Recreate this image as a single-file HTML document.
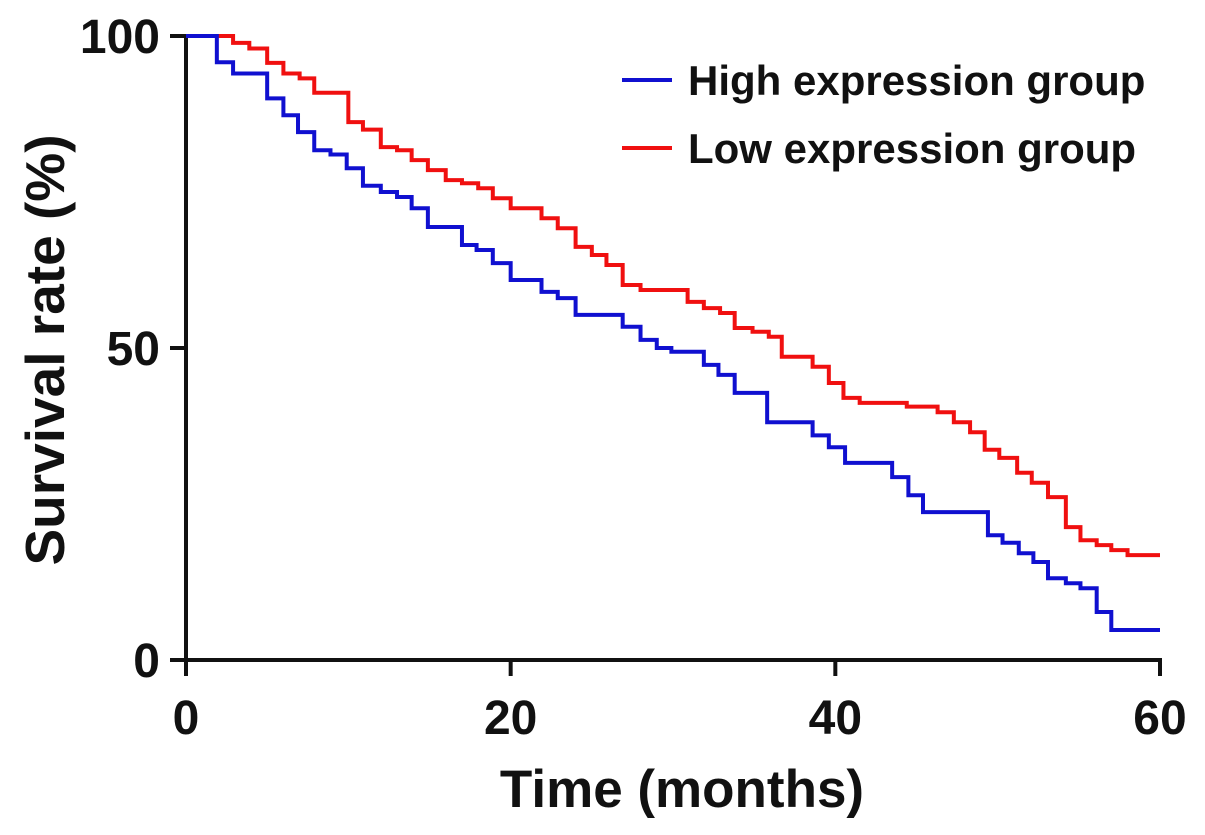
<!DOCTYPE html>
<html><head><meta charset="utf-8"><style>
html,body{margin:0;padding:0;background:#fff;}
svg{display:block;font-family:"Liberation Sans",Arial,sans-serif;font-weight:bold;}
</style></head><body>
<svg id="chart" width="1205" height="835" viewBox="0 0 1205 835">
<g id="axes"></g>
<g id="series"></g>
<g>
<line x1="622" y1="80" x2="672" y2="80" stroke="#1010d0" stroke-width="4"/>
<text x="688" y="95" font-size="42" fill="#111">High expression group</text>
<line x1="622" y1="148" x2="672" y2="148" stroke="#f01010" stroke-width="4"/>
<text x="688" y="163" font-size="42" fill="#111">Low expression group</text>
</g>
<text x="682" y="807" font-size="53" text-anchor="middle" fill="#111">Time (months)</text>
<text transform="translate(64,350) rotate(-90)" font-size="55" text-anchor="middle" fill="#111">Survival rate (%)</text>
</svg>
<script>
const xTicks = [0, 20, 40, 60];
const yTicks = [0, 50, 100];
const highTimes = [0,1.9,2.9,5,6,6.9,7.9,8.9,9.9,10.9,12,13,13.9,14.9,17,17.9,18.9,20,21.9,22.9,24,26.9,28,29,29.9,31.9,32.8,33.8,35.8,38.6,39.6,40.6,43.5,44.5,45.4,49.4,50.3,51.3,52.2,53.1,54.2,55.1,56.1,57];
const highSurv = [100,95.8,94,90,87.3,84.6,81.7,81,78.8,76,75,74.2,72.4,69.4,66.5,65.7,63.6,60.9,59,58,55.3,53.4,51.3,50,49.4,47.3,45.7,42.8,38.1,36,34.1,31.6,29.3,26.4,23.7,20,18.8,17.1,15.7,13.1,12.3,11.5,7.7,4.8];
const lowTimes = [0,2.9,3.9,5,6,7,7.9,10,10.9,12,13,13.9,14.9,16,17,18,18.9,20,21.9,22.9,24,25,25.9,26.9,28,30.9,31.9,32.9,33.8,34.9,35.9,36.7,38.6,39.6,40.5,41.5,44.4,46.3,47.3,48.3,49.2,50.1,51.2,52.1,53.1,54.2,55.1,56.1,57,58];
const lowSurv = [100,98.9,98,95.7,94,93.2,90.9,86.2,85,82.2,81.7,80.1,78.5,76.9,76.4,75.6,74,72.4,70.8,69.2,66.2,64.9,63.3,60.1,59.3,57.4,56.4,55.6,53.2,52.6,51.8,48.6,47,44.4,42,41.2,40.6,39.7,38.1,36.5,33.7,32.4,30,28.4,26.1,21.3,19.2,18.4,17.6,16.8];
const tMax = 60;

const NS = "http://www.w3.org/2000/svg";
const X0 = 186, X1 = 1160, Y0 = 660, Y1 = 36;
const xs = t => X0 + (t / 60) * (X1 - X0);
const ys = v => Y0 - (v / 100) * (Y0 - Y1);
function mk(tag, attrs, parent) {
  const e = document.createElementNS(NS, tag);
  for (const k in attrs) e.setAttribute(k, attrs[k]);
  parent.appendChild(e);
  return e;
}
const axes = document.getElementById('axes');
let e = mk('line', {x1: X0, y1: Y1 - 2, x2: X0, y2: Y0 + 2, stroke: '#111', 'stroke-width': 4}, axes);


e = mk('line', {x1: X0 - 2, y1: Y0, x2: X1 + 2, y2: Y0, stroke: '#111', 'stroke-width': 4}, axes);


yTicks.forEach(v => {
  const t = mk('line', {x1: X0 - 16, y1: ys(v), x2: X0, y2: ys(v), stroke: '#111', 'stroke-width': 4}, axes);
  
  
  const l = mk('text', {x: 160, y: ys(v) + 17, 'font-size': 48, 'text-anchor': 'end', fill: '#111'}, axes);
  l.textContent = v;
  
  
});
xTicks.forEach(v => {
  const t = mk('line', {x1: xs(v), y1: Y0, x2: xs(v), y2: Y0 + 16, stroke: '#111', 'stroke-width': 4}, axes);
  
  
  const l = mk('text', {x: xs(v), y: 734, 'font-size': 48, 'text-anchor': 'middle', fill: '#111'}, axes);
  l.textContent = v;
  
  
});
function stepPath(times, surv) {
  let d = 'M' + xs(times[0]) + ',' + ys(surv[0]);
  for (let i = 1; i < times.length; i++) {
    d += ' H' + xs(times[i]) + ' V' + ys(surv[i]);
  }
  d += ' H' + xs(tMax);
  return d;
}
const series = document.getElementById('series');
const pLow = mk('path', {d: stepPath(lowTimes, lowSurv), fill: 'none', stroke: '#f01010', 'stroke-width': 4}, series);


const pHigh = mk('path', {d: stepPath(highTimes, highSurv), fill: 'none', stroke: '#1010d0', 'stroke-width': 4}, series);


</script>
</body></html>
